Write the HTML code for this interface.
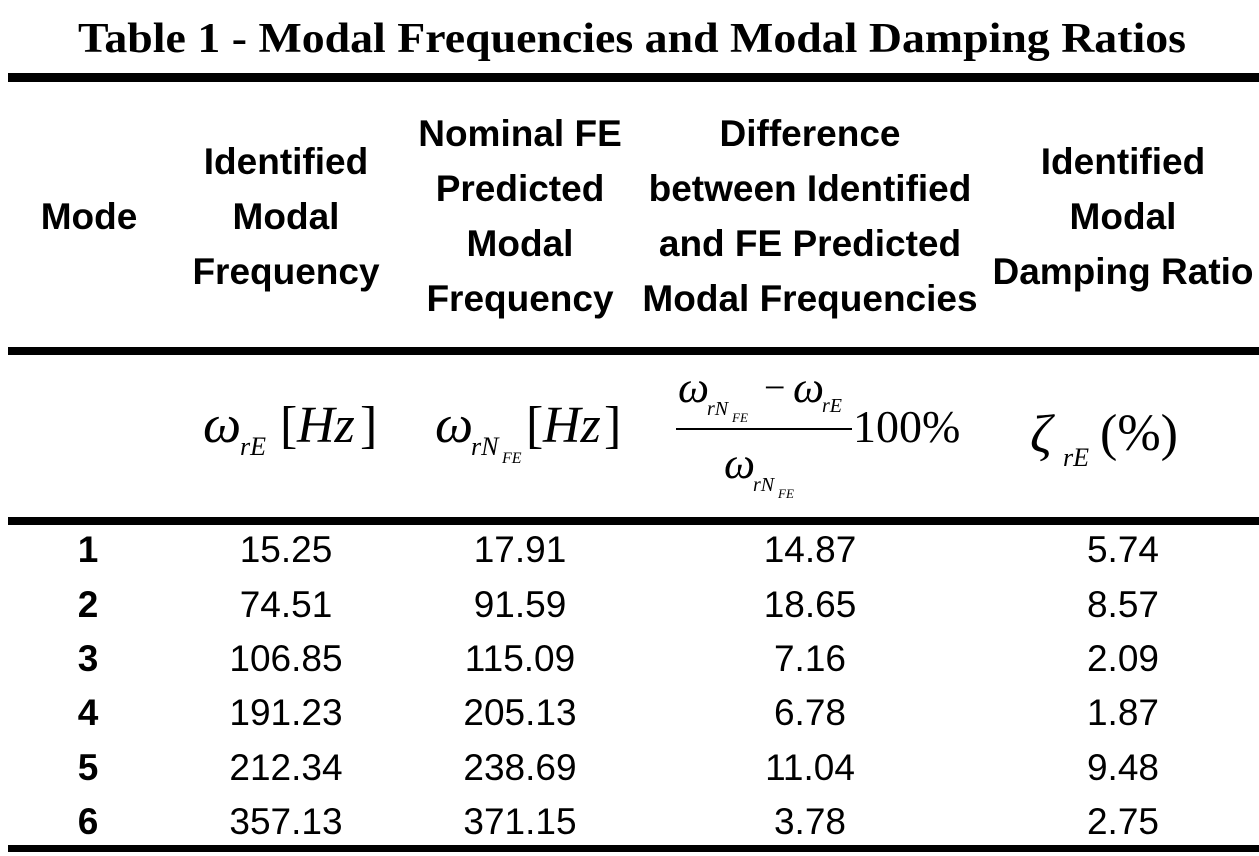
<!DOCTYPE html>
<html><head><meta charset="utf-8"><style>
html,body{margin:0;padding:0;background:#fff;}
svg{display:block;}
.h{font-family:"Liberation Sans",sans-serif;font-weight:bold;font-size:37px;fill:#000;text-anchor:middle;}
.d{font-family:"Liberation Sans",sans-serif;font-size:37px;fill:#000;text-anchor:middle;}
.m{font-family:"Liberation Serif",serif;font-style:italic;fill:#000;}
.r{font-family:"Liberation Serif",serif;fill:#000;}
</style></head><body>
<svg width="1259" height="856" viewBox="0 0 1259 856" xmlns="http://www.w3.org/2000/svg">
<rect width="1259" height="856" fill="#fff"/>
<text x="632" y="52" text-anchor="middle" font-family="Liberation Serif,serif" font-weight="bold" font-size="42" textLength="1108" lengthAdjust="spacingAndGlyphs">Table 1 - Modal Frequencies and Modal Damping Ratios</text>
<rect x="8" y="73" width="1251" height="9" fill="#000"/>
<rect x="8" y="347" width="1251" height="8" fill="#000"/>
<rect x="8" y="517" width="1251" height="8" fill="#000"/>
<rect x="8" y="845" width="1251" height="7" fill="#000"/>

<text class="h" x="89" y="229">Mode</text>
<text class="h" x="286" y="174">Identified</text>
<text class="h" x="286" y="229">Modal</text>
<text class="h" x="286" y="284">Frequency</text>
<text class="h" x="520" y="146">Nominal FE</text>
<text class="h" x="520" y="201">Predicted</text>
<text class="h" x="520" y="256">Modal</text>
<text class="h" x="520" y="311">Frequency</text>
<text class="h" x="810" y="146">Difference</text>
<text class="h" x="810" y="201">between Identified</text>
<text class="h" x="810" y="256">and FE Predicted</text>
<text class="h" x="810" y="311">Modal Frequencies</text>
<text class="h" x="1123" y="174">Identified</text>
<text class="h" x="1123" y="229">Modal</text>
<text class="h" x="1123" y="284">Damping Ratio</text>

<!-- formulas -->
<text class="m" x="203" y="442" font-size="54">ω</text>
<text class="m" x="240" y="455" font-size="26">rE</text>
<text class="r" x="280" y="442" font-size="52">[</text>
<text class="m" x="297" y="442" font-size="52">Hz</text>
<text class="r" x="360" y="442" font-size="52">]</text>

<text class="m" x="435" y="442" font-size="54">ω</text>
<text class="m" x="471" y="455" font-size="26">rN</text>
<text class="m" x="502" y="463" font-size="16">FE</text>
<text class="r" x="526" y="442" font-size="52">[</text>
<text class="m" x="543" y="442" font-size="52">Hz</text>
<text class="r" x="604" y="442" font-size="52">]</text>

<text class="m" x="678" y="402" font-size="44">ω</text>
<text class="m" x="707" y="415" font-size="20">rN</text>
<text class="m" x="732" y="422" font-size="13">FE</text>
<text class="r" x="764" y="400" font-size="38">−</text>
<text class="m" x="793" y="402" font-size="44">ω</text>
<text class="m" x="822" y="412" font-size="20">rE</text>
<rect x="676" y="428" width="176" height="2" fill="#000"/>
<text class="r" x="853" y="442" font-size="46">100%</text>
<text class="m" x="724" y="478" font-size="44">ω</text>
<text class="m" x="753" y="491" font-size="20">rN</text>
<text class="m" x="778" y="498" font-size="13">FE</text>

<text class="m" x="1030" y="452" font-size="54">ζ</text>
<text class="m" x="1063" y="466" font-size="26">rE</text>
<text class="r" x="1100" y="450" font-size="52">(%)</text>

<!-- data -->
<g class="d">
<text x="88" y="562" font-weight="bold">1</text><text x="286" y="562">15.25</text><text x="520" y="562">17.91</text><text x="810" y="562">14.87</text><text x="1123" y="562">5.74</text>
<text x="88" y="617" font-weight="bold">2</text><text x="286" y="617">74.51</text><text x="520" y="617">91.59</text><text x="810" y="617">18.65</text><text x="1123" y="617">8.57</text>
<text x="88" y="671" font-weight="bold">3</text><text x="286" y="671">106.85</text><text x="520" y="671">115.09</text><text x="810" y="671">7.16</text><text x="1123" y="671">2.09</text>
<text x="88" y="725" font-weight="bold">4</text><text x="286" y="725">191.23</text><text x="520" y="725">205.13</text><text x="810" y="725">6.78</text><text x="1123" y="725">1.87</text>
<text x="88" y="780" font-weight="bold">5</text><text x="286" y="780">212.34</text><text x="520" y="780">238.69</text><text x="810" y="780">11.04</text><text x="1123" y="780">9.48</text>
<text x="88" y="834" font-weight="bold">6</text><text x="286" y="834">357.13</text><text x="520" y="834">371.15</text><text x="810" y="834">3.78</text><text x="1123" y="834">2.75</text>
</g>
</svg>
</body></html>
